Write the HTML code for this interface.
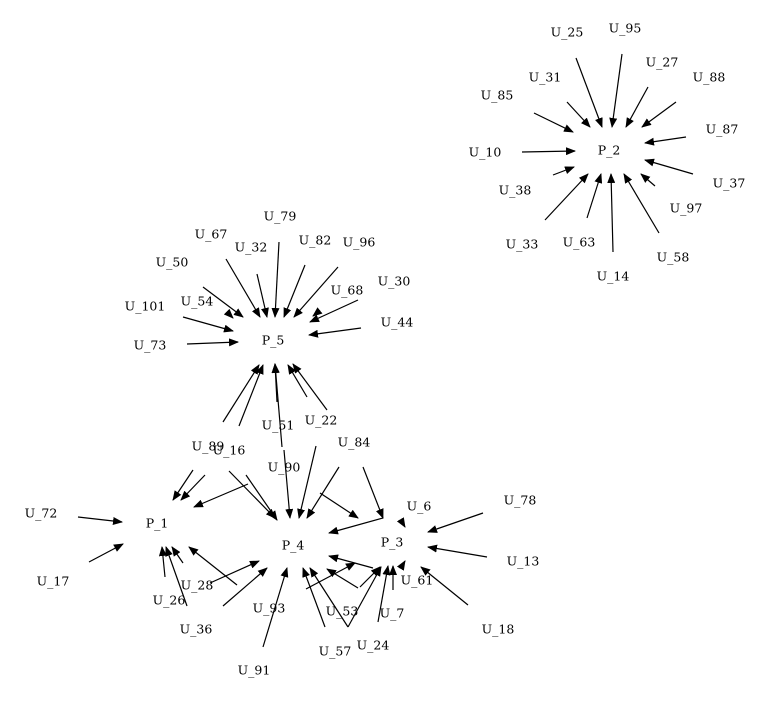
<!DOCTYPE html>
<html><head><meta charset="utf-8"><style>
html,body{margin:0;padding:0;background:#fff;}
svg{display:block}
text{font-family:"DejaVu Serif","Liberation Serif",serif;font-size:12.5px;fill:#000;text-anchor:middle;dominant-baseline:central}
line{stroke:#000;stroke-width:1.2}
</style></head><body>
<svg width="772" height="701" viewBox="0 0 772 701" xmlns="http://www.w3.org/2000/svg">
<defs><marker id="a" markerWidth="10" markerHeight="8" refX="9" refY="4" orient="auto" markerUnits="userSpaceOnUse"><path d="M0,0 L10,4 L0,8 z" fill="#000"/></marker></defs>
<g marker-end="url(#a)">
<line x1="576" y1="58" x2="602" y2="127"/>
<line x1="622" y1="54" x2="612" y2="127"/>
<line x1="648" y1="87" x2="626" y2="127"/>
<line x1="676" y1="102" x2="642" y2="127"/>
<line x1="567" y1="102" x2="590" y2="127"/>
<line x1="534" y1="113" x2="573" y2="132"/>
<line x1="686" y1="137" x2="645" y2="143"/>
<line x1="522" y1="152" x2="575" y2="151"/>
<line x1="553" y1="175" x2="574" y2="167"/>
<line x1="693" y1="174" x2="645" y2="160"/>
<line x1="655" y1="186" x2="641" y2="174"/>
<line x1="545" y1="220" x2="588" y2="174"/>
<line x1="587" y1="218" x2="601" y2="174"/>
<line x1="613" y1="252" x2="611" y2="174"/>
<line x1="659" y1="233" x2="624" y2="174"/>
<line x1="203" y1="287" x2="243" y2="317"/>
<line x1="228" y1="313" x2="233" y2="318"/>
<line x1="226" y1="259" x2="260" y2="317"/>
<line x1="257" y1="274" x2="267" y2="317"/>
<line x1="279" y1="242" x2="275" y2="317"/>
<line x1="305" y1="265" x2="284" y2="317"/>
<line x1="338" y1="267" x2="294" y2="317"/>
<line x1="318" y1="312" x2="313" y2="316"/>
<line x1="358" y1="300" x2="310" y2="322"/>
<line x1="361" y1="328" x2="309" y2="335"/>
<line x1="183" y1="317" x2="233" y2="331"/>
<line x1="187" y1="344" x2="238" y2="342"/>
<line x1="223" y1="422" x2="259" y2="365"/>
<line x1="239" y1="426" x2="263" y2="365"/>
<line x1="277" y1="402" x2="275" y2="364"/>
<line x1="282" y1="447" x2="275" y2="364"/>
<line x1="307" y1="397" x2="288" y2="365"/>
<line x1="327" y1="410" x2="293" y2="364"/>
<line x1="193" y1="470" x2="173" y2="500"/>
<line x1="205" y1="475" x2="181" y2="500"/>
<line x1="248" y1="484" x2="194" y2="507"/>
<line x1="78" y1="517" x2="122" y2="522"/>
<line x1="89" y1="562" x2="123" y2="544"/>
<line x1="237" y1="585" x2="189" y2="547"/>
<line x1="165" y1="577" x2="162" y2="547"/>
<line x1="187" y1="606" x2="166" y2="547"/>
<line x1="183" y1="563" x2="172" y2="547"/>
<line x1="229" y1="471" x2="275" y2="518"/>
<line x1="246" y1="475" x2="277" y2="520"/>
<line x1="284" y1="450" x2="290" y2="518"/>
<line x1="316" y1="446" x2="299" y2="518"/>
<line x1="339" y1="467" x2="307" y2="518"/>
<line x1="383" y1="518" x2="329" y2="533"/>
<line x1="373" y1="568" x2="329" y2="556"/>
<line x1="358" y1="588" x2="327" y2="569"/>
<line x1="348" y1="627" x2="310" y2="568"/>
<line x1="325" y1="627" x2="303" y2="568"/>
<line x1="210" y1="583" x2="259" y2="561"/>
<line x1="223" y1="606" x2="267" y2="568"/>
<line x1="263" y1="647" x2="287" y2="568"/>
<line x1="320" y1="493" x2="358" y2="518"/>
<line x1="363" y1="467" x2="383" y2="518"/>
<line x1="402" y1="522" x2="405" y2="527"/>
<line x1="483" y1="513" x2="428" y2="532"/>
<line x1="487" y1="557" x2="428" y2="547"/>
<line x1="468" y1="605" x2="421" y2="567"/>
<line x1="402" y1="566" x2="405" y2="561"/>
<line x1="360" y1="587" x2="380" y2="567"/>
<line x1="348" y1="627" x2="381" y2="567"/>
<line x1="378" y1="622" x2="388" y2="566"/>
<line x1="393" y1="590" x2="393" y2="566"/>
<line x1="306" y1="589" x2="355" y2="563"/>
</g>
<text x="609" y="150">P_2</text>
<text x="567" y="32">U_25</text><text x="625" y="28">U_95</text><text x="662" y="62">U_27</text>
<text x="709" y="77">U_88</text><text x="545" y="77">U_31</text><text x="497" y="95">U_85</text>
<text x="722" y="129">U_87</text><text x="485" y="152">U_10</text><text x="515" y="190">U_38</text>
<text x="729" y="183">U_37</text><text x="686" y="208">U_97</text><text x="522" y="244">U_33</text>
<text x="579" y="242">U_63</text><text x="613" y="276">U_14</text><text x="673" y="257">U_58</text>
<text x="273" y="340">P_5</text>
<text x="280" y="216">U_79</text><text x="211" y="234">U_67</text><text x="251" y="247">U_32</text>
<text x="315" y="240">U_82</text><text x="359" y="242">U_96</text><text x="172" y="262">U_50</text>
<text x="394" y="281">U_30</text><text x="347" y="290">U_68</text><text x="197" y="301">U_54</text>
<text x="145" y="306">U_101</text><text x="397" y="322">U_44</text><text x="150" y="345">U_73</text>
<text x="278" y="425">U_51</text><text x="321" y="420">U_22</text><text x="208" y="446">U_89</text>
<text x="229" y="450">U_16</text><text x="354" y="442">U_84</text><text x="284" y="467">U_90</text>
<text x="419" y="506">U_6</text><text x="520" y="500">U_78</text>
<text x="157" y="523">P_1</text><text x="41" y="513">U_72</text><text x="53" y="581">U_17</text>
<text x="293" y="545">P_4</text><text x="392" y="542">P_3</text>
<text x="523" y="561">U_13</text><text x="417" y="580">U_61</text><text x="197" y="585">U_28</text>
<text x="169" y="600">U_26</text><text x="269" y="608">U_93</text><text x="342" y="611">U_53</text>
<text x="392" y="613">U_7</text><text x="196" y="629">U_36</text><text x="498" y="629">U_18</text>
<text x="335" y="651">U_57</text><text x="373" y="645">U_24</text><text x="254" y="670">U_91</text>
</svg>
</body></html>
